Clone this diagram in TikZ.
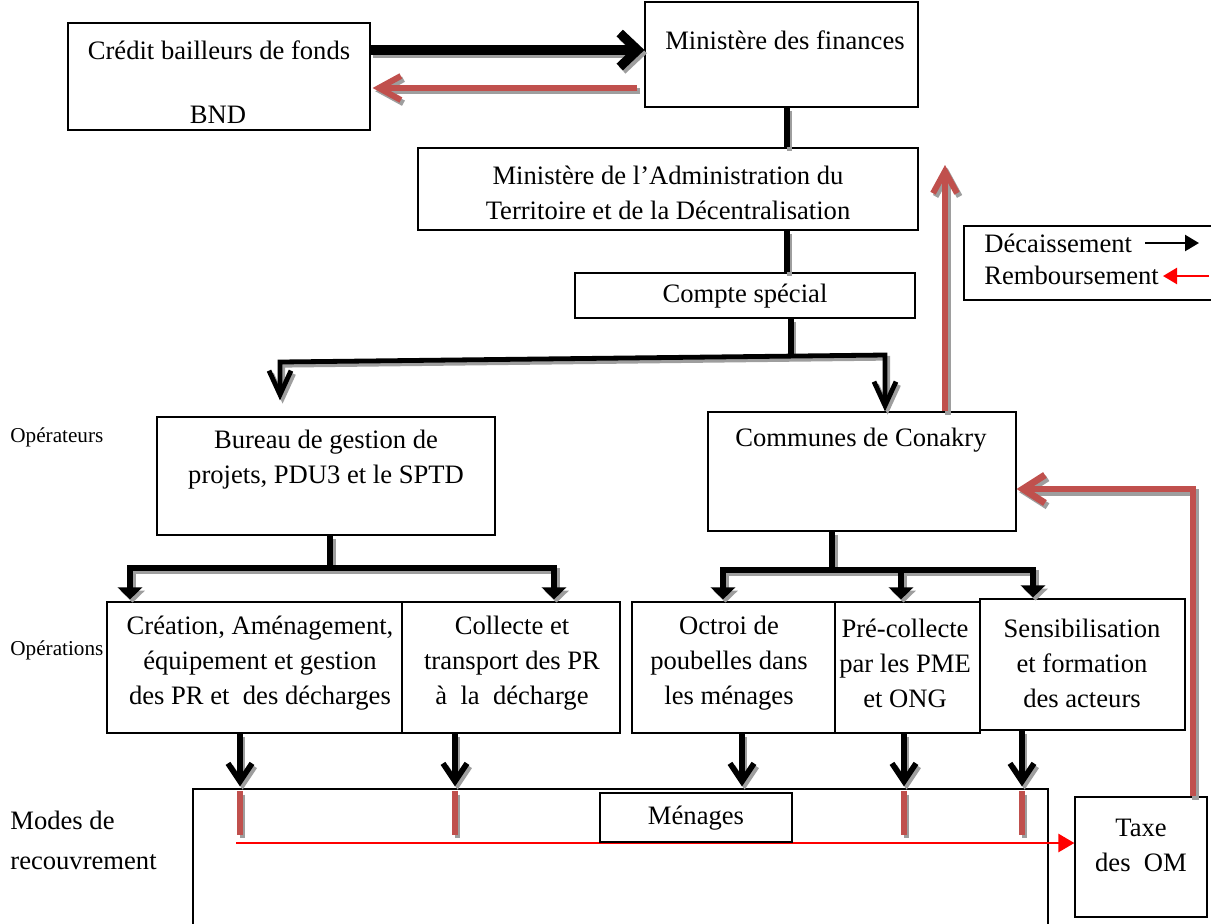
\documentclass[tikz,border=0pt]{standalone}
\usepackage{fontspec}
\setmainfont{Liberation Serif}
\usetikzlibrary{arrows.meta,fit,calc}
\definecolor{rac}{HTML}{C0504D}
\newcommand\sdraw[2]{%
  \begin{scope}[transform canvas={shift={(1.3pt,-1.6pt)}}]\draw[#1, draw=black!38] #2;\end{scope}%
  \draw[#1] #2;}
\begin{document}
\begin{tikzpicture}[x=0.5pt,y=-0.5pt,
  every node/.style={font=\fontsize{13.3}{17.5}\selectfont},
  box/.style={draw, line width=0.6pt, inner sep=0pt, fill=white},
  txt/.style={inner sep=0pt, align=center},
  blk/.style={draw=black, line width=2.4pt},
  rdl/.style={draw=rac, line width=3pt},
  tri/.style={-{Triangle[length=6pt,width=12pt]}},
]
\useasboundingbox (0,0) rectangle (1211,923);

% ---------- boxes ----------
\node[box, fit={(68,23)(370,130)}] (credit) {};
\node[box, fit={(645,2)(918,107)}] (minfin) {};
\node[box, fit={(418,148)(918,230)}] (matd) {};
\node[box, fit={(575,273)(915,318)}] (compte) {};
\node[box, fit={(157,417)(495,535)}] (bureau) {};
\node[box, fit={(708,412)(1016,531)}] (communes) {};
\node[box, fit={(964,226)(1230,300)}] (legend) {};
\node[box, fit={(107,602)(402,733)}] (op1) {};
\node[box, fit={(402,602)(620,733)}] (op2) {};
\node[box, fit={(632,602)(835,733)}] (op3) {};
\node[box, fit={(835,602)(980,733)}] (op4) {};
\node[box, fit={(980,599)(1185,730)}] (op5) {};
\node[box, fit={(193,789)(1048,940)}] (menbig) {};
\node[box, fit={(1075,797)(1207,917)}] (taxe) {};

% ---------- texts ----------
\node[txt] (tcredit) at (219,50) {Crédit bailleurs de fonds};
\node[txt] (tbnd) at (218,115) {BND};
\node[txt] (tminfin) at (785,40) {Ministère des finances};
\node[txt] (tmatd) at (668,193) {Ministère de l'Administration du\\Territoire et de la Décentralisation};
\node[txt] (tcompte) at (745,296) {Compte spécial};
\node[txt] (tbureau) at (326,460) {Bureau de gestion de\\projets, PDU3 et le SPTD};
\node[txt] (tcommunes) at (861,440) {Communes de Conakry};
\node[txt] (top1) at (260,663) {Création, Aménagement,\\équipement et gestion\\des PR et\ \ des décharges};
\node[txt] (top2) at (512,663) {Collecte et\\transport des PR\\à\ \ la\ \ décharge};
\node[txt] (top3) at (729,663) {Octroi de\\poubelles dans\\les ménages};
\node[txt] (top4) at (905,663) {Pré-collecte\\par les PME\\et ONG};
\node[txt] (top5) at (1082,663) {Sensibilisation\\et formation\\des acteurs};
\node[txt] (ttaxe) at (1141,845) {Taxe\\des\ \ OM};
\node[txt, anchor=west] (tdec) at (984,243) {Décaissement};
\node[txt, anchor=west] (trem) at (984,275) {Remboursement};
\node[txt, anchor=west, font=\fontsize{10.6}{12}\selectfont] (toperateurs) at (10,437) {Opérateurs};
\node[txt, anchor=west, font=\fontsize{10.6}{12}\selectfont] (toperations) at (10,650) {Opérations};
\node[txt, anchor=west, align=left, font=\fontsize{13.3}{20}\selectfont] (tmodes) at (10,840) {Modes de\\recouvrement};

% ---------- named coordinates ----------
\coordinate (y50) at (0,50);
\coordinate (y88) at (0,88);
\coordinate (x787) at (787,0);
\coordinate (brM) at (791,357);
\coordinate (brL) at (280,362);
\coordinate (brR) at (885,355);
\coordinate (bL) at (330,568);
\coordinate (aL1) at (130,568);
\coordinate (aL2) at (554,568);
\coordinate (bR) at (832,570);
\coordinate (aR1) at (723,570);
\coordinate (aR2) at (901,570);
\coordinate (aR3) at (1033,570);
\coordinate (d1) at (240,0);
\coordinate (d2) at (455,0);
\coordinate (d3) at (742,0);
\coordinate (d4) at (904,0);
\coordinate (d5) at (1022,0);
\coordinate (barend) at (0,835);
\coordinate (rstart) at (236,843);
\coordinate (up945) at (945,165);
\coordinate (r1193) at (1193,489);
\coordinate (lg1s) at (1145,243);
\coordinate (lg1e) at (1199,243);
\coordinate (lg2s) at (1209,276);
\coordinate (lg2e) at (1163,276);

% ---------- connectors ----------
\sdraw{blk, line width=4.6pt, -{Straight Barb[length=9pt,width=17pt]}}{(credit.east |- y50) -- (minfin.west |- y50)}
\sdraw{rdl, -{Straight Barb[length=11pt,width=12pt]}}{($(minfin.west |- y88)+(-7,0)$) -- ($(credit.east |- y88)+(2,0)$)}

\sdraw{blk, line width=2.6pt}{(minfin.south -| x787) -- (matd.north -| x787)}
\sdraw{blk, line width=2.6pt}{(matd.south -| x787) -- (compte.north -| x787)}
\sdraw{blk, line width=2.6pt}{(compte.south -| brM) -- (brM)}
\sdraw{blk, line width=2.4pt, {Straight Barb[length=12pt,width=11pt]}-{Straight Barb[length=12pt,width=11pt]}}{($(bureau.north -| brL)+(0,-16)$) -- (brL) -- (brR) -- (communes.north -| brR)}

\sdraw{blk, line width=3pt}{(bureau.south -| bL) -- (bL)}
\sdraw{blk, line width=3.2pt, {Triangle[length=6pt,width=12pt]}-{Triangle[length=6pt,width=12pt]}}{($(op1.north -| aL1)+(0,-2)$) -- (aL1) -- (aL2) -- ($(op2.north -| aL2)+(0,-2)$)}
\sdraw{blk, line width=3pt}{(communes.south -| bR) -- (bR)}
\sdraw{blk, line width=3.2pt, {Triangle[length=6pt,width=12pt]}-{Triangle[length=6pt,width=12pt]}}{($(op3.north -| aR1)+(0,-2)$) -- (aR1) -- (aR3) -- ($(op5.north -| aR3)+(0,-1)$)}
\sdraw{blk, line width=3.2pt, tri}{(aR2) -- ($(op4.north -| aR2)+(0,-2)$)}

\sdraw{blk, line width=2.8pt, -{Straight Barb[length=9pt,width=12pt]}}{(op1.south -| d1) -- ($(menbig.north -| d1)+(0,-2)$)}
\sdraw{blk, line width=2.8pt, -{Straight Barb[length=9pt,width=12pt]}}{(op2.south -| d2) -- ($(menbig.north -| d2)+(0,-2)$)}
\sdraw{blk, line width=2.8pt, -{Straight Barb[length=9pt,width=12pt]}}{(op3.south -| d3) -- ($(menbig.north -| d3)+(0,-2)$)}
\sdraw{blk, line width=2.8pt, -{Straight Barb[length=9pt,width=12pt]}}{(op4.south -| d4) -- ($(menbig.north -| d4)+(0,-2)$)}
\sdraw{blk, line width=2.8pt, -{Straight Barb[length=9pt,width=12pt]}}{(op5.south -| d5) -- ($(menbig.north -| d5)+(0,-2)$)}

\sdraw{rdl, line width=2.6pt}{($(menbig.north -| d1)+(0,3)$) -- (d1 |- barend)}
\sdraw{rdl, line width=2.6pt}{($(menbig.north -| d2)+(0,3)$) -- (d2 |- barend)}
\sdraw{rdl, line width=2.6pt}{($(menbig.north -| d4)+(0,3)$) -- (d4 |- barend)}
\sdraw{rdl, line width=2.6pt}{($(menbig.north -| d5)+(0,3)$) -- (d5 |- barend)}

\draw[red, line width=1.3pt, -{Triangle[length=8pt,width=9pt]}] (rstart) -- (taxe.west |- rstart);
\node[box, line width=1.1pt, fit={(600,793)(792,842)}] (menages) {};
\node[txt] (tmenages) at (696,818) {Ménages};

\sdraw{rdl, line width=3.4pt, -{Straight Barb[length=11pt,width=14pt]}}{(taxe.north -| r1193) -- (r1193) -- (communes.east |- r1193)}
\sdraw{rdl, line width=3pt, -{Straight Barb[length=11pt,width=12pt]}}{(communes.north -| up945) -- (up945)}

\draw[black, line width=1.2pt, -{Triangle[length=7pt,width=8pt]}] (lg1s) -- (lg1e);
\draw[red, line width=1.2pt, -{Triangle[length=7pt,width=8pt]}] (lg2s) -- (lg2e);
\end{tikzpicture}
\end{document}
